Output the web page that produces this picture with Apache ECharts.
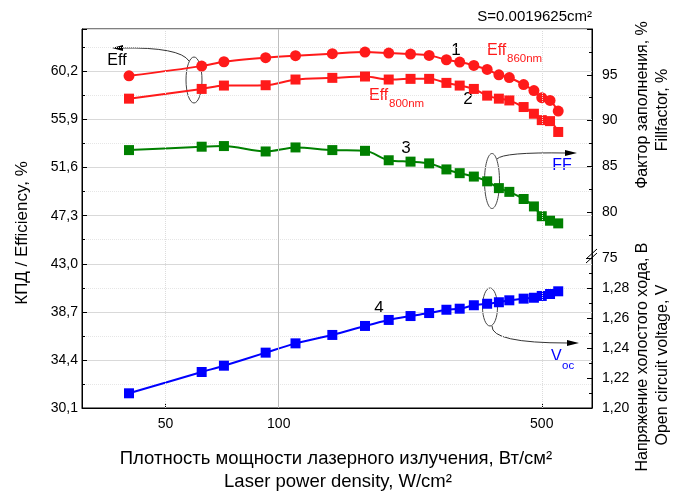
<!DOCTYPE html>
<html>
<head>
<meta charset="utf-8">
<script src="https://cdn.jsdelivr.net/npm/echarts@6/dist/echarts.min.js"></script>
<style>
  html, body { margin: 0; padding: 0; background: #fff; }
  #chart { width: 675px; height: 495px; }
</style>
</head>
<body>
<div id="chart"></div>
<script>
// laser power density, W/cm2 (same for all curves)
const power = [40, 62.4, 71.5, 92.3, 110.8, 138.8, 169.5, 196, 224, 251, 279, 302.6, 330, 358, 384.6, 410, 447.5, 476.6, 500, 526, 553];
// efficiency at 860 nm, %
const eff860 = [59.81, 60.68, 61.07, 61.43, 61.61, 61.79, 61.94, 61.85, 61.76, 61.64, 61.25, 61.04, 60.74, 60.38, 59.90, 59.66, 59.03, 58.49, 57.86, 57.61, 56.66];
// efficiency at 800 nm, %
const eff800 = [57.77, 58.64, 58.94, 58.97, 59.48, 59.63, 59.75, 59.48, 59.54, 59.54, 59.18, 58.94, 58.64, 58.04, 57.77, 57.61, 57.02, 56.42, 55.85, 55.76, 54.79];
// fill factor, %
const fillFactor = [86.78, 87.15, 87.22, 86.63, 87.07, 86.78, 86.70, 85.67, 85.52, 85.33, 84.67, 84.26, 83.89, 83.37, 82.63, 82.22, 81.44, 80.63, 79.56, 79.07, 78.78];
// open circuit voltage, V
const voc = [1.2098, 1.2240, 1.2282, 1.2369, 1.2431, 1.2487, 1.2547, 1.2587, 1.2613, 1.2633, 1.2655, 1.2662, 1.2685, 1.2695, 1.2705, 1.2718, 1.2729, 1.2735, 1.2747, 1.2760, 1.2778];
// x tick labels
const xTicks = [50, 100, 500];

const RED = '#ff1a1a';
const GREEN = '#008000';
const BLUE = '#0000ff';
const FONT = '"Liberation Sans", Arial, sans-serif';

const pairs = (ys) => power.map((x, i) => [x, ys[i]]);

const chart = echarts.init(document.getElementById('chart'));

const logX = (gridIndex, show) => ({
  type: 'log',
  logBase: 10,
  gridIndex: gridIndex,
  min: 30,
  max: 680,
  show: show,
  axisLine: { show: show, lineStyle: { color: '#000' } },
  axisTick: { show: show, inside: true, length: 5, customValues: xTicks, lineStyle: { color: '#000' } },
  axisLabel: { show: show, customValues: xTicks, margin: 9, fontSize: 14, color: '#000', fontFamily: FONT },
  splitLine: { show: false },
  minorTick: { show: false }
});

const comma = (digits) => (v) => v.toFixed(digits).replace('.', ',');

const tickStyle = { inside: true, length: 5, lineStyle: { color: '#000' } };
const minorStyle = { show: true, splitNumber: 2, length: 3, lineStyle: { color: '#000' } };
const labelStyle = { fontSize: 14, color: '#000', fontFamily: FONT, showMaxLabel: false };

// plain text helper for graphic labels
const txt = (x, y, text, size, color, align) => ({
  type: 'text', x: x, y: y,
  style: { text: text, font: size + 'px ' + FONT, fill: color || '#000', align: align || 'center', verticalAlign: 'middle' }
});
const vtxt = (x, y, text, size) => Object.assign(txt(x, y, text, size), { rotation: Math.PI / 2 });

const option = {
  animation: false,
  backgroundColor: '#fff',
  textStyle: { fontFamily: FONT },
  grid: [
    { left: 82, right: 83, top: 29, bottom: 87, show: true, borderColor: '#000', borderWidth: 1, backgroundColor: 'transparent' },
    { left: 82, right: 83, top: 29, height: 229 },
    { left: 82, right: 83, top: 258, bottom: 87 }
  ],
  xAxis: [logX(0, true), logX(1, false), logX(2, false)],
  yAxis: [
    {
      type: 'value', gridIndex: 0, position: 'left',
      min: 30.1, max: 64, interval: 4.3,
      axisLine: { show: true, lineStyle: { color: '#000' } },
      axisTick: tickStyle,
      minorTick: minorStyle,
      axisLabel: Object.assign({ formatter: comma(1), margin: 4 }, labelStyle),
      splitLine: { show: true, lineStyle: { color: '#d9d9d9', width: 1 } },
      minorSplitLine: { show: true, lineStyle: { color: '#e6e6e6', type: 'dotted' } }
    },
    {
      type: 'value', gridIndex: 1, position: 'right',
      min: 75, max: 100, interval: 5,
      axisLine: { show: true, lineStyle: { color: '#000' } },
      axisTick: tickStyle,
      minorTick: minorStyle,
      axisLabel: Object.assign({ margin: 10 }, labelStyle),
      splitLine: { show: false }
    },
    {
      type: 'value', gridIndex: 2, position: 'right',
      min: 1.20, max: 1.30, interval: 0.02,
      axisLine: { show: true, lineStyle: { color: '#000' } },
      axisTick: tickStyle,
      minorTick: minorStyle,
      axisLabel: Object.assign({ formatter: comma(2), margin: 10 }, labelStyle),
      splitLine: { show: false }
    }
  ],
  series: [
    {
      name: 'Eff860', type: 'line', xAxisIndex: 0, yAxisIndex: 0,
      data: pairs(eff860), smooth: 0.3,
      symbol: 'circle', symbolSize: 11,
      lineStyle: { color: RED, width: 2 }, itemStyle: { color: RED },
      markLine: {
        silent: true, symbol: 'none', label: { show: false },
        data: [
          { xAxis: 50, lineStyle: { color: '#dcdcdc', type: 'dotted', width: 1 } },
          { xAxis: 100, lineStyle: { color: '#bdbdbd', type: 'solid', width: 1 } },
          { xAxis: 500, lineStyle: { color: '#dcdcdc', type: 'dotted', width: 1 } }
        ]
      }
    },
    {
      name: 'Eff800', type: 'line', xAxisIndex: 0, yAxisIndex: 0,
      data: pairs(eff800), smooth: 0.3,
      symbol: 'rect', symbolSize: 10,
      lineStyle: { color: RED, width: 2 }, itemStyle: { color: RED }
    },
    {
      name: 'FF', type: 'line', xAxisIndex: 1, yAxisIndex: 1,
      data: pairs(fillFactor), smooth: 0.3,
      symbol: 'rect', symbolSize: 10,
      lineStyle: { color: GREEN, width: 2 }, itemStyle: { color: GREEN }
    },
    {
      name: 'Voc', type: 'line', xAxisIndex: 2, yAxisIndex: 2,
      data: pairs(voc), smooth: 0.3,
      symbol: 'rect', symbolSize: 10,
      lineStyle: { color: BLUE, width: 2 }, itemStyle: { color: BLUE }
    }
  ],
  graphic: [
    // axis titles
    vtxt(22, 233, 'КПД / Efficiency, %', 17),
    vtxt(643, 105, 'Фактор заполнения, %', 16),
    vtxt(663, 110, 'Fillfactor, %', 16),
    vtxt(643, 357, 'Напряжение холостого хода, В', 16),
    vtxt(663, 365, 'Open circuit voltage, V', 16),
    txt(336, 459, 'Плотность мощности лазерного излучения, Вт/см²', 18.5),
    txt(338, 482, 'Laser power density, W/cm²', 18.5),
    txt(592, 17, 'S=0.0019625cm²', 15, '#000', 'right'),

    // curve labels
    txt(117, 61, 'Eff', 16),
    txt(456, 50, '1', 17),
    txt(468, 99, '2', 17),
    txt(406, 148, '3', 17),
    txt(379, 308, '4', 17),
    txt(487, 51, 'Eff', 16, RED, 'left'),
    txt(507, 59, '860nm', 11.5, RED, 'left'),
    txt(369, 96, 'Eff', 16, RED, 'left'),
    txt(389, 104, '800nm', 11.5, RED, 'left'),
    txt(562, 166, 'FF', 16, BLUE),
    txt(551, 357, 'V', 16, BLUE, 'left'),
    txt(562, 366, 'oc', 11.5, BLUE, 'left'),

    // ellipses and arrows
    { type: 'ellipse', shape: { cx: 194, cy: 80, rx: 8, ry: 23 }, style: { stroke: '#444', fill: null, lineWidth: 1 } },
    { type: 'bezierCurve', shape: { x1: 189, y1: 61, cpx1: 180, cpy1: 47, x2: 121, y2: 48 }, style: { stroke: '#333', fill: null, lineWidth: 1 } },
    { type: 'polygon', shape: { points: [[112, 48], [123, 45], [123, 51]] }, style: { fill: '#000' } },

    { type: 'ellipse', shape: { cx: 492, cy: 181, rx: 7.5, ry: 27.5 }, style: { stroke: '#444', fill: null, lineWidth: 1 } },
    { type: 'bezierCurve', shape: { x1: 497, y1: 159, cpx1: 503, cpy1: 152, x2: 566, y2: 153 }, style: { stroke: '#333', fill: null, lineWidth: 1 } },
    { type: 'polygon', shape: { points: [[577, 153], [565, 150], [565, 156]] }, style: { fill: '#000' } },

    { type: 'ellipse', shape: { cx: 490, cy: 307, rx: 7.5, ry: 19 }, style: { stroke: '#444', fill: null, lineWidth: 1 } },
    { type: 'bezierCurve', shape: { x1: 492, y1: 326, cpx1: 491, cpy1: 343, x2: 568, y2: 343 }, style: { stroke: '#333', fill: null, lineWidth: 1 } },
    { type: 'polygon', shape: { points: [[579, 343], [567, 340], [567, 346]] }, style: { fill: '#000' } },

    // axis break on the right
    { type: 'line', shape: { x1: 586, y1: 263, x2: 597, y2: 253 }, style: { stroke: '#000', lineWidth: 1 } },
    { type: 'line', shape: { x1: 586, y1: 259, x2: 597, y2: 249 }, style: { stroke: '#000', lineWidth: 1 } }
  ]
};

chart.setOption(option);
</script>
</body>
</html>
